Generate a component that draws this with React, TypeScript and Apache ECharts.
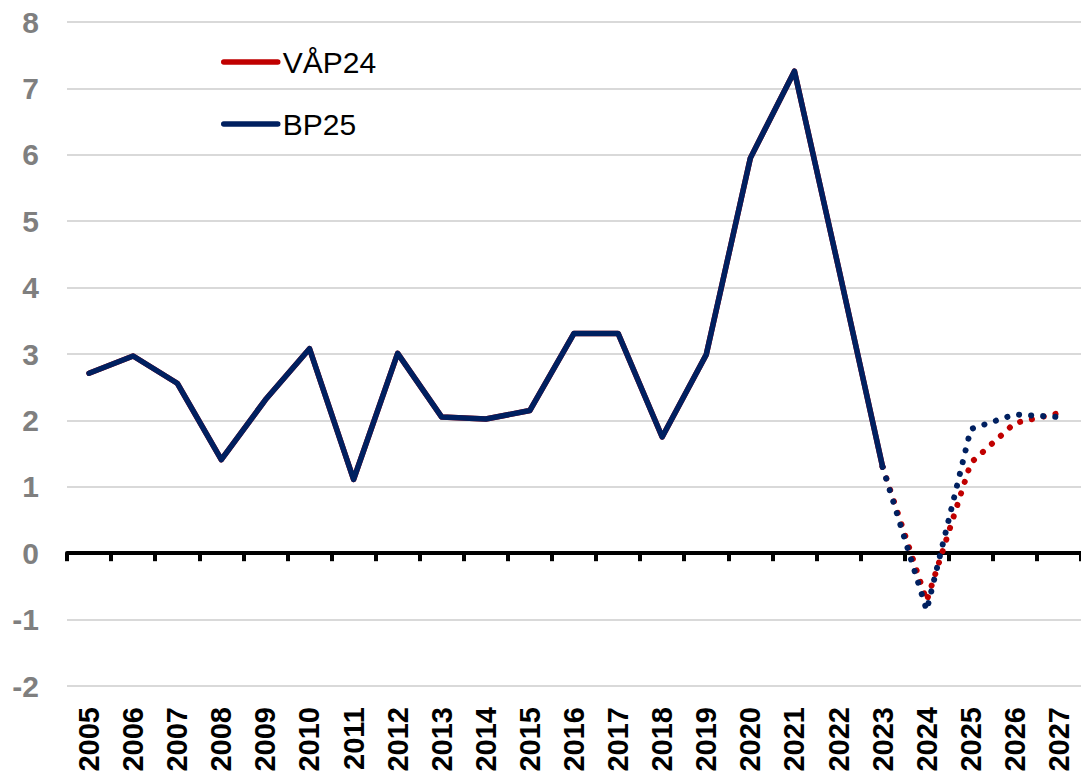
import React, { useEffect, useRef } from "react";
import * as echarts from "echarts";

const years = [
  "2005", "2006", "2007", "2008", "2009", "2010", "2011", "2012", "2013", "2014", "2015", "2016",
  "2017", "2018", "2019", "2020", "2021", "2022", "2023", "2024", "2025", "2026", "2027",
];

// Outcome 2005–2023 (same in both forecasts)
const historyYears = [
  "2005", "2006", "2007", "2008", "2009", "2010", "2011", "2012", "2013", "2014",
  "2015", "2016", "2017", "2018", "2019", "2020", "2021", "2022", "2023",
];
const historyValues = [
  2.71, 2.97, 2.56, 1.41, 2.31, 3.08, 1.11, 3.01, 2.05, 2.02,
  2.15, 3.31, 3.31, 1.75, 2.99, 5.95, 7.26, 4.3, 1.3,
];

// Forecast years (dotted)
const forecastYears = ["2023", "2024", "2025", "2026", "2027"];
const vap24Forecast = [1.3, -0.72, 1.36, 1.96, 2.11];
const bp25Forecast = [1.3, -0.86, 1.87, 2.09, 2.05];

const yTicks = { min: -2, max: 8, interval: 1 };

const RED = "#C00000";
const NAVY = "#002060";
const FONT = "'Liberation Sans', Arial, sans-serif";

function align(keys: string[], vals: number[]): (number | null)[] {
  return years.map((y) => {
    const i = keys.indexOf(y);
    return i >= 0 ? vals[i] : null;
  });
}

export default function App() {
  const ref = useRef<HTMLDivElement>(null);

  useEffect(() => {
    if (!ref.current) return;
    const chart = echarts.init(ref.current, undefined, { renderer: "svg" });
    const dotted = { width: 6, type: [0.1, 12] as any, cap: "round" as const };
    const solidW = 5.5;
    chart.setOption({
      animation: false,
      backgroundColor: "#ffffff",
      grid: { left: 67, right: -4, top: 22, bottom: 90, containLabel: false },
      legend: {
        orient: "vertical",
        left: 221,
        top: 47,
        padding: 0,
        itemWidth: 54,
        itemHeight: 14,
        itemGap: 32,
        data: ["VÅP24", "BP25"],
        lineStyle: { width: solidW, cap: "round" },
        itemStyle: { opacity: 0 },
        textStyle: { fontSize: 30, color: "#000", fontFamily: FONT, lineHeight: 30 },
      },
      xAxis: [
        {
          type: "category",
          data: years,
          boundaryGap: true,
          position: "bottom",
          axisLine: { onZero: true, lineStyle: { color: "#000", width: 4 } },
          axisTick: { show: true, length: 8, lineStyle: { color: "#000", width: 4 } },
          axisLabel: { show: false },
          splitLine: { show: false },
        },
        {
          type: "category",
          data: years,
          boundaryGap: true,
          position: "bottom",
          axisLine: { show: false, onZero: false },
          axisTick: { show: false },
          axisLabel: {
            interval: 0,
            rotate: 90,
            margin: 21,
            fontSize: 29,
            fontWeight: "bold",
            color: "#000",
            fontFamily: FONT,
          },
          splitLine: { show: false },
        },
      ],
      yAxis: {
        type: "value",
        min: yTicks.min,
        max: yTicks.max,
        interval: yTicks.interval,
        axisLine: { show: false },
        axisTick: { show: false },
        axisLabel: {
          margin: 28,
          fontSize: 30,
          fontWeight: "bold",
          color: "#7F7F7F",
          fontFamily: FONT,
        },
        splitLine: { lineStyle: { color: "#D9D9D9", width: 2 } },
      },
      series: [
        {
          name: "VÅP24",
          type: "line",
          xAxisIndex: 0,
          data: align(historyYears, historyValues),
          symbol: "none",
          lineStyle: { color: RED, width: solidW, join: "round", cap: "round" },
          itemStyle: { color: RED },
          z: 2,
        },
        {
          name: "VÅP24",
          type: "line",
          xAxisIndex: 0,
          data: align(forecastYears, vap24Forecast),
          symbol: "none",
          lineStyle: { color: RED, ...dotted },
          itemStyle: { color: RED },
          z: 2,
        },
        {
          name: "BP25",
          type: "line",
          xAxisIndex: 0,
          data: align(historyYears, historyValues),
          symbol: "none",
          lineStyle: { color: NAVY, width: solidW, join: "round", cap: "round" },
          itemStyle: { color: NAVY },
          z: 3,
        },
        {
          name: "BP25",
          type: "line",
          xAxisIndex: 0,
          data: align(forecastYears, bp25Forecast),
          symbol: "none",
          lineStyle: { color: NAVY, ...dotted },
          itemStyle: { color: NAVY },
          z: 3,
        },
      ],
    });
    return () => chart.dispose();
  }, []);

  return (
    <div
      ref={ref}
      style={{ position: "fixed", left: 0, top: 0, width: 1081, height: 776, background: "#fff" }}
    />
  );
}
